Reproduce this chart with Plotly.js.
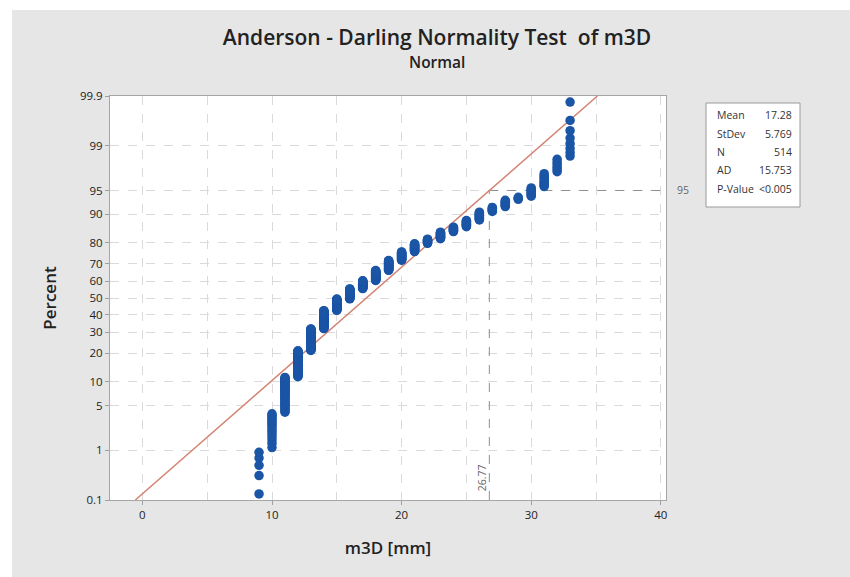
<!DOCTYPE html>
<html><head><meta charset="utf-8">
<script src="https://cdn.plot.ly/plotly-3.0.1.min.js"></script>
<style>html,body{margin:0;padding:0;background:#fff;overflow:hidden;} #chart{position:absolute;left:12px;top:10px;width:838px;height:567px;}</style>
</head><body><div id="chart"></div>
<script>
// ---- data ----
const values = [9,10,11,12,13,14,15,16,17,18,19,20,21,22,23,24,25,26,27,28,29,30,31,32,33];
const counts = [5,15,38,50,56,54,36,32,25,30,28,22,19,10,14,9,11,12,6,8,3,8,9,6,8];
const statLabels = ['Mean','StDev','N','AD','P-Value'];
const statValues = ['17.28','5.769','514','15.753','<0.005'];
const fitMean = 17.28;
const fitStDev = 5.769;
const yTickPercents = [0.1,1,5,10,20,30,40,50,60,70,80,90,95,99,99.9];
const yTickText = ['0.1','1','5','10','20','30','40','50','60','70','80','90','95','99','99.9'];
const xTickVals = [0,10,20,30,40];
const refPercent = 95;
const refXLabel = '26.77';

// ---- normal quantile (probability axis) ----
function probit(p){
  const a=[-3.969683028665376e+01,2.209460984245205e+02,-2.759285104469687e+02,1.383577518672690e+02,-3.066479806614716e+01,2.506628277459239e+00];
  const b=[-5.447609879822406e+01,1.615858368580409e+02,-1.556989798598866e+02,6.680131188771972e+01,-1.328068155288572e+01];
  const c=[-7.784894002430293e-03,-3.223964580411365e-01,-2.400758277161838e+00,-2.549732539343734e+00,4.374664141464968e+00,2.938163982698783e+00];
  const d=[7.784695709041462e-03,3.224671290700398e-01,2.445134137142996e+00,3.754408661907416e+00];
  const pl=0.02425;
  let q,r;
  if(p<pl){q=Math.sqrt(-2*Math.log(p));return (((((c[0]*q+c[1])*q+c[2])*q+c[3])*q+c[4])*q+c[5])/((((d[0]*q+d[1])*q+d[2])*q+d[3])*q+1);}
  if(p<=1-pl){q=p-0.5;r=q*q;return (((((a[0]*r+a[1])*r+a[2])*r+a[3])*r+a[4])*r+a[5])*q/(((((b[0]*r+b[1])*r+b[2])*r+b[3])*r+b[4])*r+1);}
  q=Math.sqrt(-2*Math.log(1-p));return -(((((c[0]*q+c[1])*q+c[2])*q+c[3])*q+c[4])*q+c[5])/((((d[0]*q+d[1])*q+d[2])*q+d[3])*q+1);
}

// plotting positions (median ranks) for each observation
const N = counts.reduce((s,v)=>s+v,0);
const px=[], py=[];
let rank=0;
values.forEach((v,k)=>{
  for(let j=0;j<counts[k];j++){
    rank++;
    px.push(v);
    py.push(probit((rank-0.3)/(N+0.4)));
  }
});

const yLo = probit(yTickPercents[0]/100), yHi = probit(yTickPercents[yTickPercents.length-1]/100);
const xRange = [-2.5, 40.4];
const zRef = probit(refPercent/100);
const xRef = fitMean + fitStDev*zRef;

// page-pixel helpers (plot area spans page x 110..666, y 96..500)
const PL=110, PR=666, PT=96, PB=500;
const fx = p => (p-PL)/(PR-PL);
const fy = p => (PB-p)/(PB-PT);

const FONT = '"Open Sans", "Noto Sans", sans-serif';
const gridCol = '#dadada';

const traces = [
  {type:'scatter', mode:'lines', x:[fitMean+fitStDev*yLo, fitMean+fitStDev*yHi], y:[yLo,yHi],
   line:{color:'#d48474', width:1.5}, hoverinfo:'skip', showlegend:false},
  {type:'scatter', mode:'markers', x:px, y:py,
   marker:{color:'#1b55a6', size:9.5, line:{width:0}}, showlegend:false}
];

const shapes = [
  {type:'line', xref:'x', yref:'y', x0:xRef, x1:xRange[1], y0:zRef, y1:zRef, layer:'between',
   line:{color:'#8f8f8f', width:1, dash:'dash'}},
  {type:'line', xref:'x', yref:'y', x0:xRef, x1:xRef, y0:yLo, y1:zRef, layer:'between',
   line:{color:'#8f8f8f', width:1, dash:'dash'}},
  {type:'rect', xref:'paper', yref:'paper', x0:fx(706), x1:fx(800), y0:fy(103), y1:fy(207),
   fillcolor:'#ffffff', line:{color:'#9a9a9a', width:1}}
];

const annotations = [
  {text:'Normal', xref:'paper', yref:'paper', x:fx(437), y:fy(62), showarrow:false,
   font:{family:FONT, size:15.5, color:'#222', weight:600}, xanchor:'center', yanchor:'middle'},
  {text:String(refPercent), xref:'paper', yref:'y', x:fx(683), y:zRef, showarrow:false,
   font:{family:FONT, size:10.5, color:'#666'}, xanchor:'center', yanchor:'middle'},
  {text:refXLabel, xref:'x', yref:'paper', x:xRef, y:fy(478), xshift:-7, textangle:-90, showarrow:false,
   font:{family:FONT, size:10.5, color:'#666'}, xanchor:'center', yanchor:'middle'}
];
const rowY = [115,134,152,170,189];
statLabels.forEach((lab,i)=>{
  annotations.push({text:lab, xref:'paper', yref:'paper', x:fx(715), y:fy(rowY[i]), showarrow:false,
    xanchor:'left', yanchor:'middle', font:{family:FONT, size:10.5, color:'#333'}});
  annotations.push({text:statValues[i], xref:'paper', yref:'paper', x:fx(794), y:fy(rowY[i]), showarrow:false,
    xanchor:'right', yanchor:'middle', font:{family:FONT, size:10.5, color:'#333'}});
});

const layout = {
  width:838, height:567,
  paper_bgcolor:'#e6e6e6', plot_bgcolor:'#ffffff',
  margin:{l:PL-12, r:838-(PR-12), t:PT-10, b:567-(PB-10)},
  font:{family:FONT, color:'#333'},
  title:{text:'Anderson - Darling Normality Test  of m3D', xref:'container', yref:'container',
    x:(437-12)/838, y:1-(38-10)/567, xanchor:'center', yanchor:'middle',
    font:{family:FONT, size:21, color:'#222', weight:600}},
  xaxis:{range:xRange, tickvals:xTickVals, ticks:'outside', ticklen:4, tickcolor:'#a0a0a0',
    showgrid:true, gridcolor:gridCol, griddash:'dash', gridwidth:1,
    minor:{dtick:5, tick0:0, showgrid:true, gridcolor:gridCol, griddash:'dash', ticks:''},
    showline:true, mirror:true, linecolor:'#a6a6a6', linewidth:1, zeroline:false,
    tickfont:{family:FONT, size:11.5, color:'#222'},
    title:{text:'m3D [mm]', standoff:21, font:{family:FONT, size:17, color:'#222', weight:600}}},
  yaxis:{range:[yLo,yHi], tickvals:yTickPercents.map(p=>probit(p/100)), ticktext:yTickText,
    ticks:'outside', ticklen:4, tickcolor:'#a0a0a0',
    showgrid:true, gridcolor:gridCol, griddash:'dash', gridwidth:1,
    showline:true, mirror:true, linecolor:'#a6a6a6', linewidth:1, zeroline:false,
    tickfont:{family:FONT, size:11.5, color:'#222'},
    title:{text:'Percent', standoff:19, font:{family:FONT, size:17, color:'#222', weight:600}}},
  shapes:shapes, annotations:annotations
};

Plotly.newPlot('chart', traces, layout, {displayModeBar:false, staticPlot:true});
</script>
</body></html>
